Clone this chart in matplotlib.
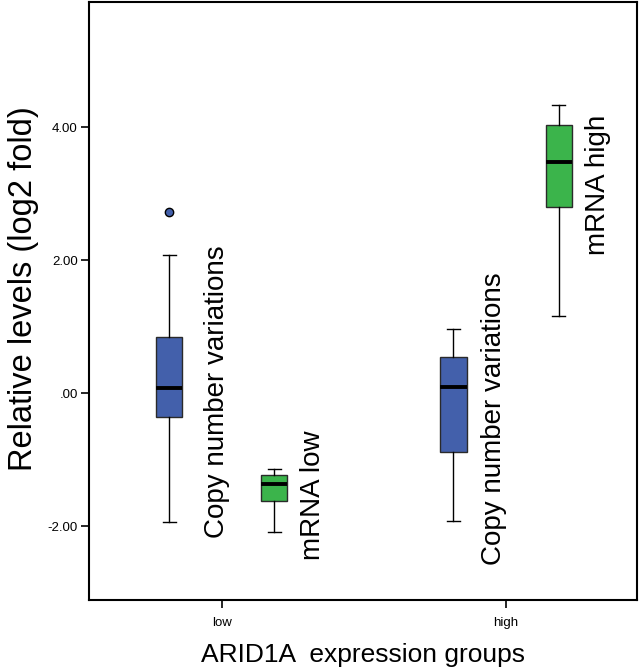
import matplotlib
matplotlib.use("Agg")
import matplotlib.pyplot as plt

plt.rcParams['font.family'] = ['Liberation Sans', 'DejaVu Sans']

# ARID1A expression groups
groups = ['low', 'high']

# copy number variations (blue boxes)
cnv_whislo = [-1.94, -1.92]
cnv_q1 = [-0.36, -0.88]
cnv_med = [0.08, 0.09]
cnv_q3 = [0.84, 0.54]
cnv_whishi = [2.07, 0.97]
cnv_fliers = [[2.73], []]

# mRNA (green boxes)
mrna_whislo = [-2.08, 1.16]
mrna_q1 = [-1.62, 2.80]
mrna_med = [-1.36, 3.48]
mrna_q3 = [-1.23, 4.03]
mrna_whishi = [-1.14, 4.33]
mrna_fliers = [[], []]

ytick_vals = [-2.0, 0.0, 2.0, 4.0]
ytick_labels = ['-2.00', '.00', '2.00', '4.00']

blue = '#4360ab'
green = '#3bb44b'


def make_stats(lo, q1, med, q3, hi, fl):
    return [dict(whislo=lo[i], q1=q1[i], med=med[i], q3=q3[i], whishi=hi[i],
                 fliers=fl[i]) for i in range(len(lo))]


fig = plt.figure(figsize=(6.39, 6.69), dpi=100)
ax = fig.add_axes([0.139, 0.103, 0.858, 0.894])

pos = list(range(len(groups)))
off = 0.185
bw = 0.092

for stats, dx, col in [
        (make_stats(cnv_whislo, cnv_q1, cnv_med, cnv_q3, cnv_whishi, cnv_fliers), -off, blue),
        (make_stats(mrna_whislo, mrna_q1, mrna_med, mrna_q3, mrna_whishi, mrna_fliers), off, green)]:
    ax.bxp(stats, positions=[p + dx for p in pos], widths=bw, patch_artist=True,
           showfliers=True, capwidths=bw * 0.5,
           boxprops=dict(facecolor=col, edgecolor='#2a2a2a', linewidth=1.0),
           medianprops=dict(color='black', linewidth=2.8),
           whiskerprops=dict(color='black', linewidth=1.0),
           capprops=dict(color='black', linewidth=1.0),
           flierprops=dict(marker='o', markerfacecolor=col, markeredgecolor='black',
                           markersize=6, markeredgewidth=1.0))

# rotated labels beside the boxes
for i, p in enumerate(pos):
    ax.text(p - 0.018 - 0.024 * i, [-2.17, -2.59][i], 'Copy number variations',
            rotation=90, ha='center', va='bottom', fontsize=20)
    ax.text(p + 0.322, [-2.51, 2.08][i], 'mRNA ' + groups[i],
            rotation=90, ha='center', va='bottom', fontsize=20)

ax.set_xlim(-0.468, 1.461)
ax.set_ylim(-3.11, 5.88)
ax.set_xticks(pos)
ax.set_xticklabels(groups, fontsize=9.5)
ax.set_yticks(ytick_vals)
ax.set_yticklabels(ytick_labels, fontsize=9.5)
ax.tick_params(length=6, width=1.2, pad=2)
ax.tick_params(axis='x', pad=6)
for s in ax.spines.values():
    s.set_linewidth(1.5)

ax.set_ylabel('Relative levels (log2 fold)', fontsize=23.5)
ax.yaxis.set_label_coords(-0.09, 0.52)
ax.set_xlabel('ARID1A  expression groups', fontsize=19)
ax.xaxis.set_label_coords(0.5, -0.071)

fig.savefig('out.png', dpi=100)
